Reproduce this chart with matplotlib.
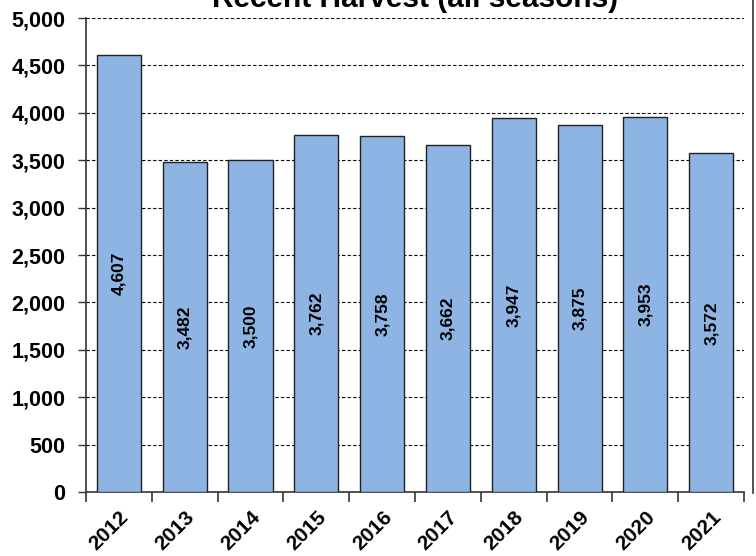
import numpy as np
import matplotlib
matplotlib.use("Agg")
import matplotlib.pyplot as plt
from matplotlib.lines import Line2D
from matplotlib.ticker import FuncFormatter, FixedLocator

plt.rcParams["font.family"] = ["Liberation Sans", "DejaVu Sans"]

years = ["2012", "2013", "2014", "2015", "2016", "2017", "2018", "2019", "2020", "2021"]
harvest = [4607, 3482, 3500, 3762, 3758, 3662, 3947, 3875, 3953, 3572]
title = "Recent Harvest (all seasons)"

BAR_COLOR = "#8EB4E3"

fig = plt.figure(figsize=(7.56, 5.56), dpi=100)
ax = fig.add_axes([0.1138, 0.115, 0.8704, 0.8526])

x = np.arange(len(years))
ax.bar(x, harvest, width=0.67, color=BAR_COLOR, edgecolor="#222222", linewidth=1.0, zorder=3)

# value labels sit mid-bar, rotated
for xi, val in zip(x, harvest):
    ax.text(xi, val / 2, f"{val:,}", rotation=90, ha="center", va="center",
            fontsize=12.5, fontweight="bold", color="black", zorder=4)

ax.set_xlim(-0.5, len(years) - 0.5)
ax.set_ylim(0, 5000)
ax.set_yticks(np.arange(0, 5001, 500))
ax.yaxis.set_major_formatter(FuncFormatter(lambda v, _: f"{int(v):,}"))
ax.grid(axis="y", linestyle=(0, (3, 2)), color="black", linewidth=0.8, zorder=0)

ax.set_xticks(x)
ax.set_xticklabels(years, rotation=45, ha="right", va="top", rotation_mode="anchor",
                   fontsize=15, fontweight="bold")
ax.tick_params(axis="x", which="major", length=0, pad=11)
ax.xaxis.set_minor_locator(FixedLocator(np.arange(-0.5, len(years), 1.0)))
ax.tick_params(axis="x", which="minor", length=7, width=1.2, color="#333333")

for lbl in ax.get_yticklabels():
    lbl.set_fontweight("bold")
    lbl.set_fontsize(15.5)
ax.tick_params(axis="y", length=6, width=1.0, color="#333333", pad=9)

ax.spines["top"].set_visible(False)
ax.spines["right"].set_visible(False)
for side in ("left", "bottom"):
    ax.spines[side].set_color("#333333")
    ax.spines[side].set_linewidth(1.2)

fig.text(0.549, 1 - 7 / 556, title, ha="center", va="baseline", fontsize=21.5, fontweight="bold")
fig.add_artist(Line2D([753 / 756, 753 / 756], [1.0, 1 - 493 / 556], color="#333333", linewidth=1.2))

fig.savefig("out.png", dpi=100)
